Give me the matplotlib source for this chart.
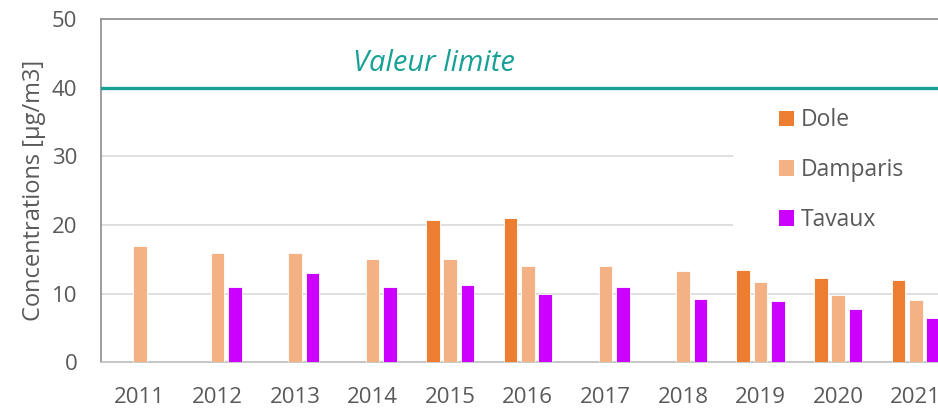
import matplotlib.pyplot as plt
import numpy as np
from matplotlib.patches import Rectangle
import matplotlib.transforms as mtransforms

plt.rcParams['font.family'] = ['Open Sans', 'DejaVu Sans']

years = ['2011', '2012', '2013', '2014', '2015', '2016', '2017', '2018', '2019', '2020', '2021']
dole = [np.nan, np.nan, np.nan, np.nan, 20.7, 21.1, np.nan, np.nan, 13.4, 12.3, 12.0]
damparis = [17.0, 16.0, 16.0, 15.0, 15.0, 14.0, 14.0, 13.3, 11.7, 9.8, 9.1]
tavaux = [np.nan, 11.0, 13.0, 11.0, 11.2, 10.0, 11.0, 9.2, 8.9, 7.7, 6.4]
limit_value = 40

grey = '#595959'
teal = '#17A095'

fig = plt.figure(figsize=(9.38, 4.08), dpi=100)
# axes run past the right edge, like the cropped original
ax = fig.add_axes([101 / 938, 45.7 / 408, 853.6 / 938, 343 / 408])

x = np.arange(len(years))
w = 0.177
step = 0.224
ax.bar(x - step, dole, w, color='#ED7D31', edgecolor='white', linewidth=0.6, label='Dole', zorder=3)
ax.bar(x, damparis, w, color='#F4B183', edgecolor='white', linewidth=0.6, label='Damparis', zorder=3)
ax.bar(x + step, tavaux, w, color='#CC00FF', edgecolor='white', linewidth=0.6, label='Tavaux', zorder=3)

ax.axhline(limit_value, color=teal, linewidth=2.4, zorder=4)
ax.text(3.79, 43.6, 'Valeur limite', color=teal, fontsize=21, style='italic',
        ha='center', va='center')

ax.set_xlim(-0.5, 10.5)
ax.set_ylim(0, 50)
ax.set_yticks([0, 10, 20, 30, 40, 50])
ax.set_xticks(x)
ax.set_xticklabels(years)
ax.tick_params(axis='both', length=0, labelsize=16, labelcolor=grey)
ax.tick_params(axis='x', pad=18)
ax.tick_params(axis='y', pad=17)

ax.yaxis.grid(True, color='#D9D9D9', linewidth=1.2, zorder=0)
ax.set_axisbelow(True)
for side in ['left', 'top']:
    ax.spines[side].set_color('#8C8C8C')
    ax.spines[side].set_linewidth(1.2)
ax.spines['bottom'].set_color('#BFBFBF')
ax.spines['bottom'].set_linewidth(1.2)
ax.spines['right'].set_visible(False)

ax.set_ylabel('Concentrations [µg/m3]', fontsize=17, color=grey, labelpad=4)

# white legend area hides the gridlines behind it
trans = mtransforms.blended_transform_factory(ax.transAxes, ax.transData)
ax.add_patch(Rectangle((0.74, 17.8), 0.4, 21.2, transform=trans, facecolor='white',
                       edgecolor='none', zorder=2))

leg = ax.legend(loc='upper left', bbox_to_anchor=(0.794, 0.74), frameon=False,
                fontsize=16.5, labelcolor=grey, handlelength=0.68, handleheight=0.68,
                handletextpad=0.3, labelspacing=1.12, borderpad=0, borderaxespad=0)
for h in leg.legend_handles:
    h.set_edgecolor('none')

fig.savefig('out.png', dpi=100)
